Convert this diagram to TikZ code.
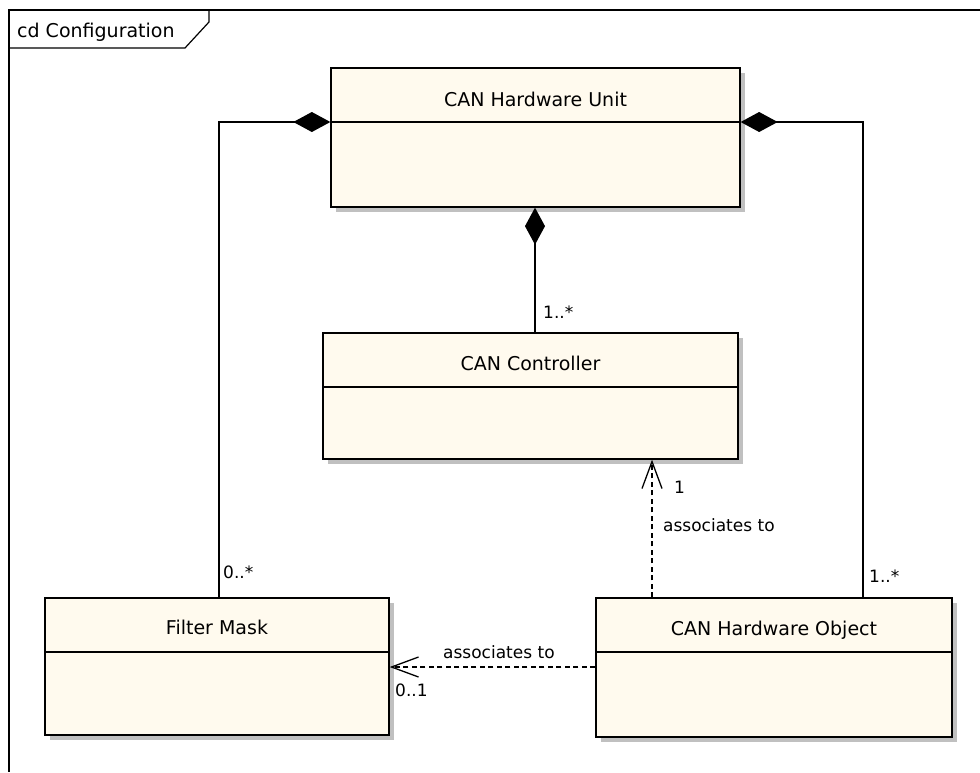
\documentclass[tikz,border=0pt]{standalone}
\usepackage{fontspec}
\setmainfont{DejaVu Sans}
\usetikzlibrary{arrows.meta,shadows}
\definecolor{classfill}{RGB}{255,250,238}
\definecolor{shadowgray}{RGB}{192,192,192}
\begin{document}
\begin{tikzpicture}[x=1pt,y=-1pt,
  classbox/.style={draw=black, line width=1.3pt, fill=classfill,
    drop shadow={shadow xshift=5pt, shadow yshift=-5pt, fill=shadowgray, opacity=1},
    inner sep=0pt},
  divider/.style={line width=1.3pt},
  cname/.style={font=\fontsize{19}{22}\selectfont, anchor=base, inner sep=0pt},
  lbl/.style={font=\fontsize{17}{20}\selectfont, anchor=base west, inner sep=0pt},
  comp/.style={line width=1.3pt, {Diamond[length=37pt,width=20pt]}-},
  dep/.style={line width=1.3pt, dash pattern=on 5pt off 3.5pt,
    -{Straight Barb[length=27pt,width=20pt]}},
  framel/.style={line width=1.2pt}
]
\useasboundingbox[fill=white] (0,0) rectangle (980,772);

% frame
\draw[framel] (980,10) -- (9,10) -- (9,772);
\draw[framel] (9,48) -- (185,48) -- (209,22) -- (209,10);
\node[anchor=base west, inner sep=0pt, font=\fontsize{19}{22}\selectfont] (frametitle) at (17,37) {cd Configuration};

% classes
\node[classbox, minimum width=409pt, minimum height=139pt] (unit) at (535.5,137.5) {};
\draw[divider] (unit.west |- 0,122) -- (unit.east |- 0,122);
\node[cname] (unitname) at (535.5,106) {CAN Hardware Unit};

\node[classbox, minimum width=415pt, minimum height=126pt] (ctrl) at (530.5,396) {};
\draw[divider] (ctrl.west |- 0,387) -- (ctrl.east |- 0,387);
\node[cname] (ctrlname) at (530.5,370) {CAN Controller};

\node[classbox, minimum width=344pt, minimum height=137pt] (fm) at (217,666.5) {};
\draw[divider] (fm.west |- 0,652) -- (fm.east |- 0,652);
\node[cname] (fmname) at (217,634) {Filter Mask};

\node[classbox, minimum width=356pt, minimum height=139pt] (obj) at (774,667.5) {};
\draw[divider] (obj.west |- 0,652) -- (obj.east |- 0,652);
\node[cname] (objname) at (774,635) {CAN Hardware Object};

% compositions
\draw[comp] (unit.west |- 0,122) -| (fm.north -| 219,0);
\draw[comp] (unit.east |- 0,122) -| (obj.north -| 863,0);
\draw[comp] (unit.south -| 535,0) -- (ctrl.north -| 535,0);

% dependencies
\draw[dep] (obj.north -| 652,0) -- (ctrl.south -| 652,0);
\draw[dep] (obj.west |- 0,667) -- (fm.east |- 0,667);

% labels
\node[lbl] (m1) at (543,318) {1..*};
\node[lbl] (m2) at (223,578) {0..*};
\node[lbl] (m3) at (869,582) {1..*};
\node[lbl] (m4) at (674,493) {1};
\node[lbl] (a1) at (663,531) {associates to};
\node[lbl] (a2) at (443,658) {associates to};
\node[lbl] (m5) at (395,696) {0..1};
\end{tikzpicture}
\end{document}
